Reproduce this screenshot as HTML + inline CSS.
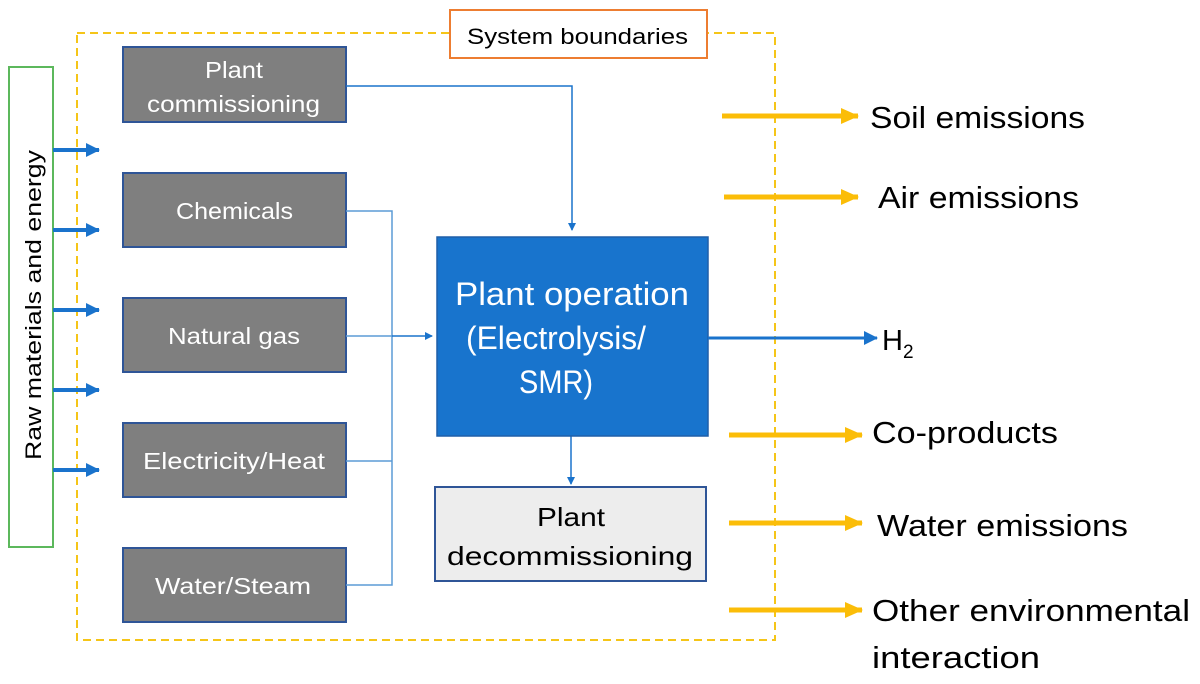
<!DOCTYPE html>
<html><head><style>body{margin:0;background:#fff}</style></head><body>
<svg width="1200" height="679" xmlns="http://www.w3.org/2000/svg" font-family="Liberation Sans, sans-serif">
<defs>
<marker id="b" markerWidth="8" markerHeight="8" refX="7" refY="4" orient="auto" markerUnits="userSpaceOnUse"><path d="M0,0 L8,4 L0,8z" fill="#1a73cc"/></marker>
<marker id="bb" markerWidth="14" markerHeight="14" refX="13" refY="7" orient="auto" markerUnits="userSpaceOnUse"><path d="M0,0 L14,7 L0,14z" fill="#1a73cc"/></marker>
<marker id="y" markerWidth="18" markerHeight="16" refX="17" refY="8" orient="auto" markerUnits="userSpaceOnUse"><path d="M0,0 L18,8 L0,16z" fill="#fbbd08"/></marker>
</defs>
<rect x="77" y="33" width="698" height="607" fill="none" stroke="#f5c518" stroke-width="2" stroke-dasharray="8,5"/>
<rect x="450" y="10" width="257" height="48" fill="#fff" stroke="#ed7d31" stroke-width="2"/>
<text x="467" y="44" font-size="22" textLength="221" lengthAdjust="spacingAndGlyphs">System boundaries</text>
<rect x="9" y="67" width="44" height="480" fill="#fff" stroke="#5cb85c" stroke-width="2"/>
<text transform="translate(41,460) rotate(-90)" font-size="22" textLength="310" lengthAdjust="spacingAndGlyphs">Raw materials and energy</text>
<g stroke="#1a73cc" stroke-width="4" marker-end="url(#bb)">
<line x1="53" y1="150" x2="99" y2="150"/><line x1="53" y1="230" x2="99" y2="230"/><line x1="53" y1="310" x2="99" y2="310"/><line x1="53" y1="390" x2="99" y2="390"/><line x1="53" y1="470" x2="99" y2="470"/>
</g>
<g fill="#7f7f7f" stroke="#2f5597" stroke-width="2">
<rect x="123" y="47" width="223" height="75"/><rect x="123" y="173" width="223" height="74"/><rect x="123" y="298" width="223" height="74"/><rect x="123" y="423" width="223" height="74"/><rect x="123" y="548" width="223" height="74"/>
</g>
<g fill="#fff" font-size="23" lengthAdjust="spacingAndGlyphs">
<text x="205" y="78" textLength="58" lengthAdjust="spacingAndGlyphs">Plant</text><text x="147" y="112" textLength="173" lengthAdjust="spacingAndGlyphs">commissioning</text>
<text x="176" y="219" textLength="117" lengthAdjust="spacingAndGlyphs">Chemicals</text><text x="168" y="344" textLength="132" lengthAdjust="spacingAndGlyphs">Natural gas</text><text x="143" y="469" textLength="182" lengthAdjust="spacingAndGlyphs">Electricity/Heat</text><text x="155" y="594" textLength="156" lengthAdjust="spacingAndGlyphs">Water/Steam</text>
</g>
<g fill="none" stroke="#5b9bd5" stroke-width="1.5">
<polyline points="346,86 572,86 572,230" marker-end="url(#b)" stroke="#1a73cc"/>
<polyline points="346,211 392,211 392,585 346,585"/>
<line x1="346" y1="336" x2="392" y2="336"/><line x1="346" y1="461" x2="392" y2="461"/>
<line x1="392" y1="336" x2="432" y2="336" stroke="#1a73cc" marker-end="url(#b)"/>
<line x1="571" y1="436" x2="571" y2="484" stroke="#1a73cc" marker-end="url(#b)"/>
</g>
<rect x="437" y="237" width="271" height="199" fill="#1874cd" stroke="#1f5fa8" stroke-width="1.5"/>
<g fill="#fff" font-size="32"><text x="455" y="305" textLength="234" lengthAdjust="spacingAndGlyphs">Plant operation</text><text x="466" y="349" textLength="180" lengthAdjust="spacingAndGlyphs">(Electrolysis/</text><text x="519" y="393" textLength="74" lengthAdjust="spacingAndGlyphs">SMR)</text></g>
<rect x="435" y="487" width="271" height="94" fill="#ededed" stroke="#2f5597" stroke-width="2"/>
<g font-size="26"><text x="537" y="526" textLength="68" lengthAdjust="spacingAndGlyphs">Plant</text><text x="447" y="565" textLength="246" lengthAdjust="spacingAndGlyphs">decommissioning</text></g>
<line x1="708" y1="338" x2="877" y2="338" stroke="#1a73cc" stroke-width="3" marker-end="url(#bb)"/>
<text x="882" y="350" font-size="29">H<tspan font-size="19" dy="8">2</tspan></text>
<g stroke="#fbbd08" stroke-width="5" marker-end="url(#y)">
<line x1="722" y1="116" x2="858" y2="116"/><line x1="724" y1="197" x2="858" y2="197"/><line x1="729" y1="435" x2="862" y2="435"/><line x1="729" y1="523" x2="862" y2="523"/><line x1="729" y1="610" x2="862" y2="610"/>
</g>
<g font-size="31">
<text x="870" y="128" textLength="215" lengthAdjust="spacingAndGlyphs">Soil emissions</text><text x="878" y="208" textLength="201" lengthAdjust="spacingAndGlyphs">Air emissions</text><text x="872" y="443" textLength="186" lengthAdjust="spacingAndGlyphs">Co-products</text><text x="877" y="536" textLength="251" lengthAdjust="spacingAndGlyphs">Water emissions</text><text x="872" y="621" textLength="318" lengthAdjust="spacingAndGlyphs">Other environmental</text><text x="872" y="668" textLength="168" lengthAdjust="spacingAndGlyphs">interaction</text>
</g>
</svg>
</body></html>
